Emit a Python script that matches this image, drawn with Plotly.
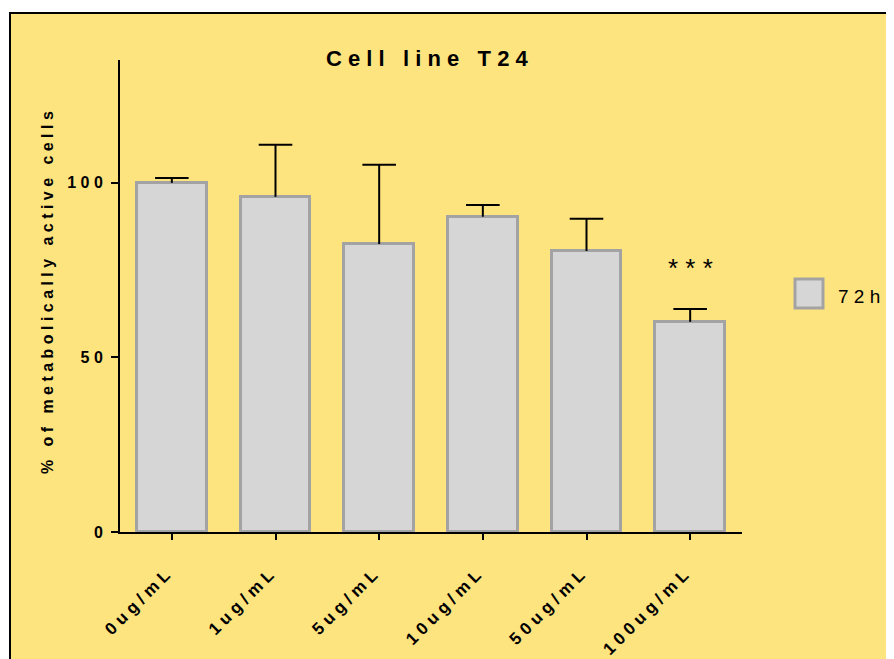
import plotly.graph_objects as go

categories = ["0ug/mL", "1ug/mL", "5ug/mL", "10ug/mL", "50ug/mL", "100ug/mL"]
values = [100.0, 96.0, 82.5, 90.3, 80.5, 60.2]
errors = [1.4, 14.9, 22.7, 3.4, 9.2, 3.7]
y_ticks = [0, 50, 100]
series_name = "72h"
title_text = "Cell line T24"
y_title = "% of metabolically active cells"
signif_label = "***"
signif_index = 5
signif_y = 75.6

YELLOW = "#FEE47F"
BAR_FILL = "#D6D6D6"
BAR_LINE = "#A3A3A3"
FONT = "Liberation Sans, Arial, sans-serif"

# the page body has an 8px margin; all reference pixel positions are shifted by it
OFF = 8


def spaced(s):
    return " ".join(ch if ch != " " else "\u00a0" for ch in s)


tops = [v + e for v, e in zip(values, errors)]

fig = go.Figure()
fig.add_trace(go.Bar(
    x=categories, y=values, width=0.67,
    marker=dict(color=BAR_FILL, line=dict(color=BAR_LINE, width=3)),
    error_y=dict(type="data", array=errors, arrayminus=[0] * len(errors),
                 symmetric=False, width=0, thickness=2, color="black"),
    name=series_name, showlegend=False,
))
fig.add_trace(go.Scatter(
    x=categories, y=tops, mode="markers",
    marker=dict(symbol="line-ew", size=24, line=dict(width=2, color="black"), color="black"),
    showlegend=False, hoverinfo="skip",
))

W, H = 894 - OFF, 659 - OFF
L, R, T, B = 120 - OFF, 152, 60 - OFF, 127
pw, ph = W - L - R, H - T - B


def px_x(p):
    return (p - OFF - L) / pw


def px_y(p):
    return (H - B - (p - OFF)) / ph


shapes = [
    dict(type="rect", xref="paper", yref="paper", layer="below",
         x0=px_x(10), x1=1.4, y0=-0.4, y1=px_y(13),
         fillcolor=YELLOW, line=dict(color="black", width=2)),
    dict(type="rect", xref="paper", yref="paper",
         x0=px_x(795), x1=px_x(823), y0=px_y(308), y1=px_y(279),
         fillcolor=BAR_FILL, line=dict(color=BAR_LINE, width=3)),
]

annotations = [
    dict(text=spaced(title_text), xref="paper", yref="paper", x=px_x(427), y=px_y(59),
         xanchor="center", yanchor="middle", showarrow=False,
         font=dict(family=FONT, size=22, color="black", weight="bold")),
    dict(text=spaced(y_title), xref="paper", yref="paper", x=px_x(47), y=px_y(293),
         xanchor="center", yanchor="middle", textangle=-90, showarrow=False,
         font=dict(family=FONT, size=16, color="black", weight="bold")),
    dict(text=spaced(signif_label), xref="x", yref="y", x=categories[signif_index], y=signif_y,
         xanchor="center", yanchor="middle", showarrow=False,
         font=dict(family=FONT, size=26, color="black")),
    dict(text=spaced(series_name), xref="paper", yref="paper", x=px_x(836), y=px_y(296),
         xanchor="left", yanchor="middle", showarrow=False,
         font=dict(family=FONT, size=19, color="black")),
]

fig.update_layout(
    width=W, height=H,
    margin=dict(l=L, r=R, t=T, b=B, pad=0, autoexpand=False),
    paper_bgcolor="white",
    plot_bgcolor="rgba(0,0,0,0)",
    shapes=shapes,
    annotations=annotations,
    showlegend=False,
    bargap=0,
    font=dict(family=FONT, color="black"),
)
fig.update_xaxes(
    range=[-0.5, len(categories) - 0.5],
    tickvals=categories, ticktext=[spaced(c) + "\u00a0\u00a0" for c in categories],
    tickangle=-45, ticks="outside", ticklen=6, tickwidth=2, tickcolor="black",
    showline=True, linecolor="black", linewidth=2, showgrid=False, zeroline=False,
    tickfont=dict(family=FONT, size=17, color="black", weight="bold"),
    ticklabelstandoff=12, automargin=False,
)
fig.update_yaxes(
    range=[0, 135.2],
    tickvals=y_ticks, ticktext=[spaced(str(t)) for t in y_ticks],
    ticks="outside", ticklen=7, tickwidth=2, tickcolor="black",
    showline=True, linecolor="black", linewidth=2, showgrid=False, zeroline=False,
    tickfont=dict(family=FONT, size=16, color="black", weight="bold"),
    ticklabelstandoff=5, automargin=False,
)

fig.write_html("out.html")
